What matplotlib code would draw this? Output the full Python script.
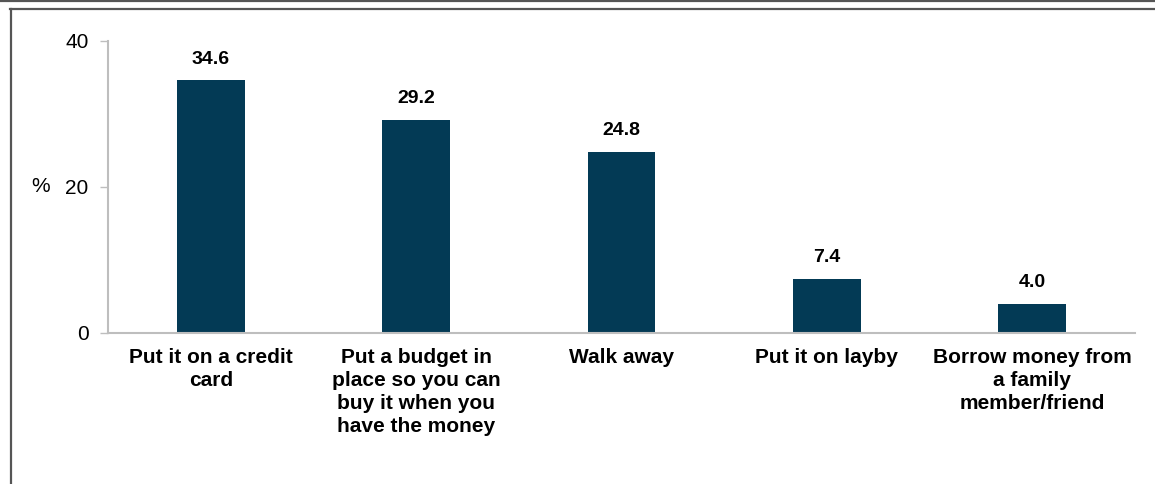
import matplotlib
matplotlib.use("Agg")
import matplotlib.pyplot as plt
from matplotlib.lines import Line2D

categories = [
    "Put it on a credit\ncard",
    "Put a budget in\nplace so you can\nbuy it when you\nhave the money",
    "Walk away",
    "Put it on layby",
    "Borrow money from\na family\nmember/friend",
]
values = [34.6, 29.2, 24.8, 7.4, 4.0]
yticks = [0, 20, 40]

BAR_COLOR = "#033A55"
AXIS_COLOR = "#BEBEBE"

plt.rcParams["font.family"] = ["Liberation Sans", "DejaVu Sans"]

fig = plt.figure(figsize=(11.55, 4.84), dpi=100)
ax = fig.add_axes([108 / 1155, 1 - 333 / 484, (1135 - 108) / 1155, (333 - 41) / 484])

x = list(range(len(categories)))
bars = ax.bar(x, values, width=0.33, color=BAR_COLOR)

for xi, v in zip(x, values):
    ax.annotate("{0:.1f}".format(v), (xi, v), xytext=(0, 9),
                textcoords="offset points", ha="center", va="bottom",
                fontsize=14, fontweight="bold", color="black")

ax.set_xlim(-0.5, len(categories) - 0.5)
ax.set_ylim(0, 40)
ax.set_yticks(yticks)
ax.set_yticklabels([str(t) for t in yticks], fontsize=15)
ax.set_xticks(x)
ax.set_xticklabels(categories, fontsize=15, fontweight="bold",
                   linespacing=1.26, va="top")
ax.tick_params(axis="x", length=0, pad=11)
ax.tick_params(axis="y", length=6, width=1, color=AXIS_COLOR, pad=8)

for side in ("top", "right"):
    ax.spines[side].set_visible(False)
for side in ("left", "bottom"):
    ax.spines[side].set_color(AXIS_COLOR)
    ax.spines[side].set_linewidth(1.5)

ax.text(-0.0565, 0.5, "%", transform=ax.transAxes, fontsize=15,
        ha="right", va="center")

# outer frame lines
W, H = 1155, 484
for xs, ys in [((0, W), (H - 1, H - 1)),
               ((10, W), (H - 9, H - 9)),
               ((11, 11), (0, H - 9))]:
    fig.add_artist(Line2D([p / W for p in xs], [p / H for p in ys],
                          transform=fig.transFigure, color="#555555",
                          linewidth=1.6))

fig.savefig("out.png", dpi=100, facecolor="white")
